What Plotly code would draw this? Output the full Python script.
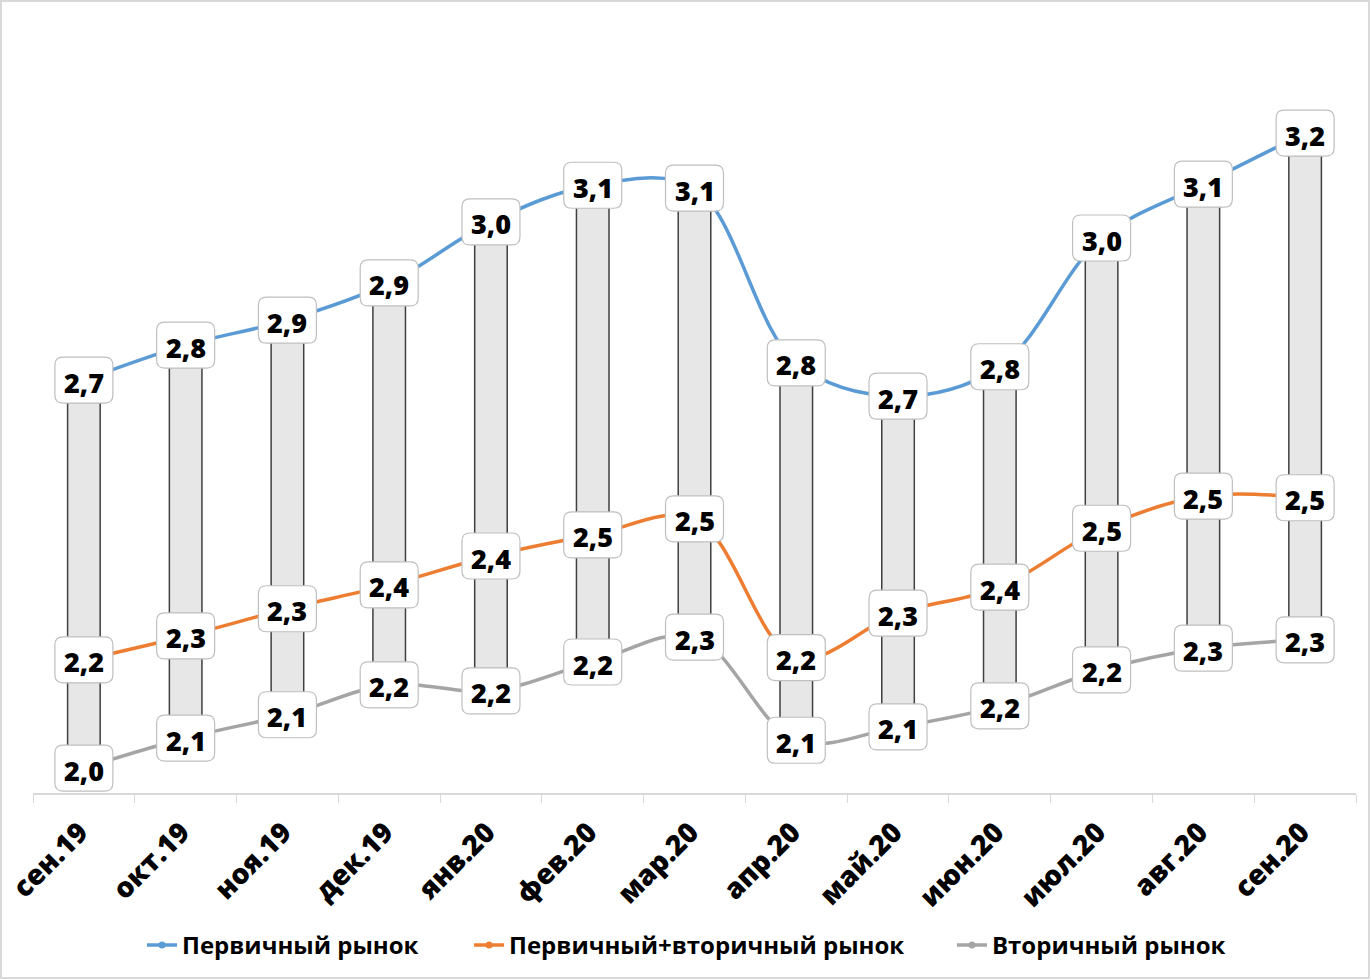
import plotly.graph_objects as go

categories = ["сен.19", "окт.19", "ноя.19", "дек.19", "янв.20", "фев.20", "мар.20",
              "апр.20", "май.20", "июн.20", "июл.20", "авг.20", "сен.20"]
primary = [2.744, 2.807, 2.852, 2.919, 3.029, 3.095, 3.090, 2.775, 2.715, 2.768, 3.000, 3.097, 3.189]
combined = [2.240, 2.283, 2.332, 2.375, 2.427, 2.465, 2.494, 2.244, 2.324, 2.371, 2.477, 2.535, 2.532]
secondary = [2.045, 2.099, 2.141, 2.195, 2.184, 2.236, 2.281, 2.095, 2.119, 2.157, 2.222, 2.261, 2.276]

series_names = ["Первичный рынок", "Первичный+вторичный рынок", "Вторичный рынок"]
series_colors = ["#5b9bd5", "#ed7d31", "#a5a5a5"]
legend_ids = ["legend", "legend2", "legend3"]
legend_x = [0.0824, 0.3296, 0.6946]

FONT = "Open Sans"

fig = go.Figure()

# high-low bars from secondary to primary
fig.add_trace(go.Bar(
    x=categories,
    y=[p - s for p, s in zip(primary, secondary)],
    base=secondary,
    width=0.32,
    marker=dict(color="#e7e7e7", line=dict(color="#404040", width=1.5)),
    showlegend=False,
    hoverinfo="skip",
))

for name, vals, col, lg in zip(series_names, [primary, combined, secondary], series_colors, legend_ids):
    fig.add_trace(go.Scatter(
        x=categories, y=vals, name=name, mode="lines+markers",
        line=dict(color=col, width=3.5, shape="spline", smoothing=1.0),
        marker=dict(color=col, size=7), legend=lg,
    ))

# rounded label boxes + texts
w, h, r = 58, 46, 8
hw, hh = w / 2, h / 2
box_path = (f"M {-hw + r} {-hh} L {hw - r} {-hh} Q {hw} {-hh} {hw} {-hh + r} "
            f"L {hw} {hh - r} Q {hw} {hh} {hw - r} {hh} L {-hw + r} {hh} "
            f"Q {-hw} {hh} {-hw} {hh - r} L {-hw} {-hh + r} Q {-hw} {-hh} {-hw + r} {-hh} Z")
shapes = []
annotations = []
for vals in [primary, combined, secondary]:
    for c, v in zip(categories, vals):
        shapes.append(dict(
            type="path", xref="x", yref="y", xsizemode="pixel", ysizemode="pixel",
            xanchor=c, yanchor=v, path=box_path,
            fillcolor="white", line=dict(color="#bfbfbf", width=1.2), layer="above",
        ))
        annotations.append(dict(
            x=c, y=v, xref="x", yref="y", text=f"{v:.1f}".replace(".", ","),
            showarrow=False, yshift=-2,
            font=dict(family=FONT, size=27, color="black", weight=800),
        ))

# outer chart border
shapes.append(dict(type="rect", xref="paper", yref="paper",
                   x0=-0.0242, x1=1.0098, y0=-0.2381, y1=1.0193,
                   line=dict(color="#d9d9d9", width=2), fillcolor="rgba(0,0,0,0)", layer="below"))

legend_common = dict(orientation="h", y=-0.196, yanchor="middle", xanchor="left",
                     font=dict(family=FONT, size=24, color="black", weight="bold"),
                     itemwidth=30, bgcolor="rgba(0,0,0,0)")

fig.update_layout(
    width=1371, height=980, autosize=False,
    margin=dict(l=33, r=15, t=16, b=187),
    paper_bgcolor="white", plot_bgcolor="white",
    barmode="overlay",
    shapes=shapes, annotations=annotations,
    font=dict(family=FONT, color="black"),
    legend=dict(x=legend_x[0], **legend_common),
    legend2=dict(x=legend_x[1], **legend_common),
    legend3=dict(x=legend_x[2], **legend_common),
    showlegend=True,
)
fig.update_xaxes(
    type="category", tickson="boundaries", ticks="outside", ticklen=8,
    tickcolor="#d9d9d9", showline=True, linecolor="#d9d9d9", linewidth=1.5,
    showgrid=False, tickangle=-45, range=[-0.5, 12.5], automargin=False,
    ticklabelstandoff=10, ticklabelshift=-4,
    tickfont=dict(family=FONT, size=28, color="black", weight=800),
)
fig.update_yaxes(visible=False, range=[2.0, 3.4], showgrid=False, automargin=False)

fig.write_html("out.html", config={"displayModeBar": False},
               post_script="document.body.style.margin='0';")
